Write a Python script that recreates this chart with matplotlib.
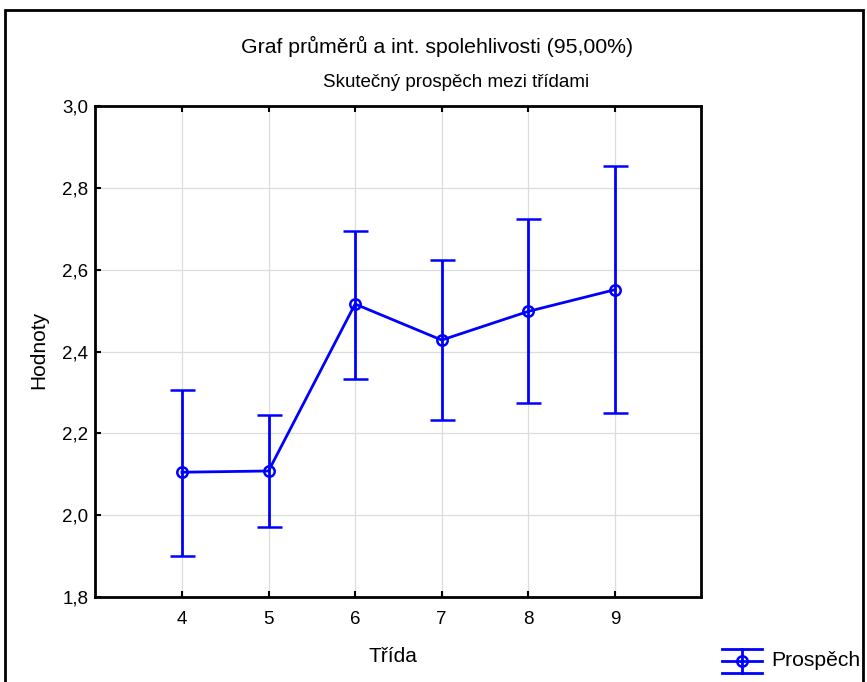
import matplotlib
matplotlib.use("Agg")
import matplotlib.pyplot as plt
from matplotlib.lines import Line2D
from matplotlib.patches import Rectangle
from matplotlib.ticker import FuncFormatter

# data
tridy = [4, 5, 6, 7, 8, 9]
prumery = [2.105, 2.108, 2.516, 2.428, 2.498, 2.551]
horni = [2.307, 2.246, 2.695, 2.623, 2.723, 2.853]
dolni = [1.900, 1.972, 2.333, 2.233, 2.273, 2.250]

err_lo = [m - d for m, d in zip(prumery, dolni)]
err_hi = [h - m for m, h in zip(prumery, horni)]

plt.rcParams["font.family"] = ["Liberation Sans", "DejaVu Sans"]
blue = "#0000ff"

fig = plt.figure(figsize=(8.67, 6.82), dpi=100)
ax = fig.add_axes([0.110, 0.1246, 0.699, 0.72])

ax.errorbar(tridy, prumery, yerr=[err_lo, err_hi], color=blue, lw=2,
            elinewidth=2, capsize=9, capthick=2, marker="o", ms=7.5,
            mfc="none", mec=blue, mew=1.8, zorder=3)

ax.set_xlim(3, 10)
ax.set_ylim(1.8, 3.0)
ax.set_xticks(tridy)
ax.set_yticks([1.8, 2.0, 2.2, 2.4, 2.6, 2.8, 3.0])
ax.yaxis.set_major_formatter(FuncFormatter(lambda v, p: f"{v:.1f}".replace(".", ",")))
ax.grid(True, color="#dddddd", lw=0.9, zorder=0)
ax.tick_params(direction="in", length=4, width=1.5, labelsize=13.5,
               top=True, right=False)
ax.tick_params(axis="x", pad=10)
ax.tick_params(axis="y", pad=5)
for s in ax.spines.values():
    s.set_linewidth(2)

ax.set_xlabel("Třída", fontsize=15, va="center")
ax.xaxis.set_label_coords(0.491, -0.122)
ax.set_ylabel("Hodnoty", fontsize=15, va="center")
ax.yaxis.set_label_coords(-0.094, 0.503)

fig.text(0.504, 0.932, "Graf průměrů a int. spolehlivosti (95,00%)",
         ha="center", va="center", fontsize=15.3)
fig.text(0.526, 0.879, "Skutečný prospěch mezi třídami",
         ha="center", va="center", fontsize=13.5)

# legend drawn by hand to match the symbol
W, H = 867.0, 682.0
def fx(px):
    return px / W
def fy(py):
    return 1 - py / H
for yy in (649, 660.5, 672.5):
    fig.add_artist(Line2D([fx(722), fx(762)], [fy(yy), fy(yy)], color=blue, lw=2))
fig.add_artist(Line2D([fx(742), fx(742)], [fy(649), fy(672.5)], color=blue, lw=2))
fig.add_artist(Line2D([fx(742)], [fy(660.5)], marker="o", ms=7.5, mfc="none",
                      mec=blue, mew=1.8, lw=0))
fig.text(fx(771), fy(661), "Prospěch", ha="left", va="center", fontsize=15.2)

# outer frame
fig.add_artist(Rectangle((fx(5), -0.05), fx(858), fy(10) + 0.05,
                         fill=False, ec="black", lw=2, transform=fig.transFigure))

fig.savefig("out.png", dpi=100)
